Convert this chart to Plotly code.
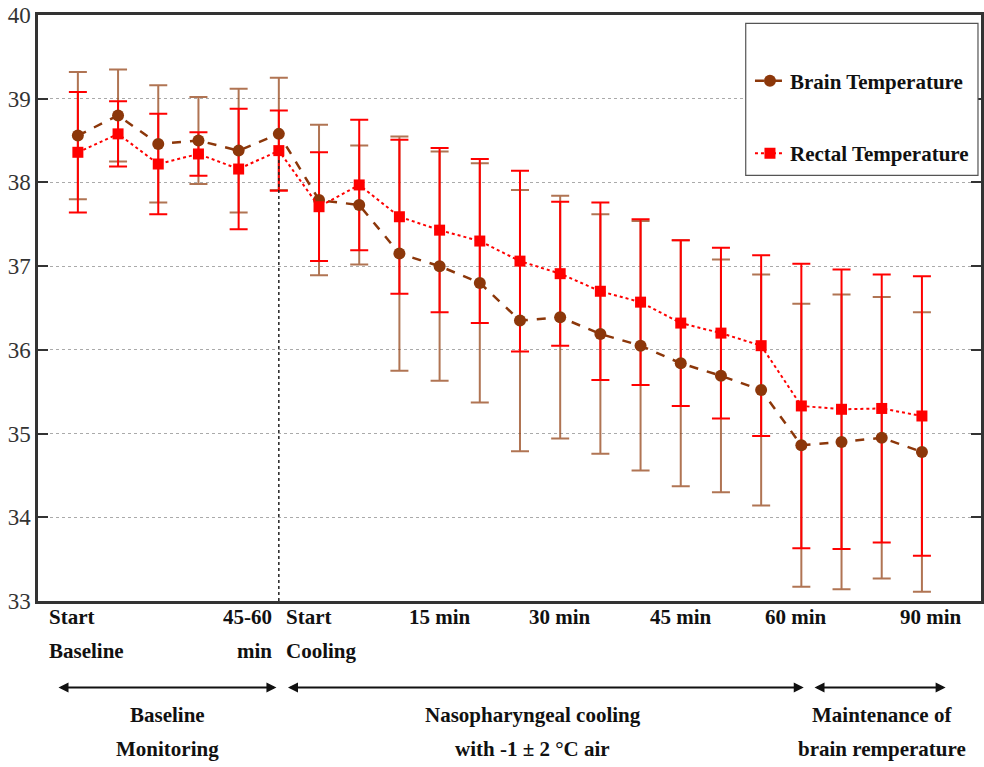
import plotly.graph_objects as go

# ---------------- data ----------------
x_index = list(range(22))

brain_mean = [38.56, 38.80, 38.46, 38.50, 38.38, 38.58, 37.79, 37.73, 37.15, 37.00, 36.80,
              36.35, 36.39, 36.19, 36.05, 35.84, 35.69, 35.52, 34.86, 34.90, 34.95, 34.78]
brain_sd = [0.76, 0.55, 0.70, 0.52, 0.74, 0.67, 0.90, 0.71, 1.40, 1.37, 1.43,
            1.56, 1.45, 1.43, 1.49, 1.47, 1.39, 1.38, 1.69, 1.76, 1.68, 1.67]

rectal_mean = [38.36, 38.58, 38.22, 38.34, 38.16, 38.38, 37.71, 37.97, 37.59, 37.43, 37.30,
               37.06, 36.91, 36.70, 36.57, 36.32, 36.20, 36.05, 35.33, 35.29, 35.30, 35.21]
rectal_sd = [0.72, 0.39, 0.60, 0.26, 0.72, 0.48, 0.65, 0.78, 0.92, 0.98, 0.98,
             1.08, 0.86, 1.06, 0.99, 0.99, 1.02, 1.08, 1.70, 1.67, 1.60, 1.67]

y_ticks = [33, 34, 35, 36, 37, 38, 39, 40]

tick_positions = [-0.77, 4.89, 5.14, 9.0, 12.0, 15.0, 17.87, 21.22]
tick_anchors = ["left", "right", "left", "center", "center", "center", "center", "center"]
tick_labels = [["Start", "Baseline"], ["45-60", "min"], ["Start", "Cooling"],
               ["15 min"], ["30 min"], ["45 min"], ["60 min"], ["90 min"]]

phase_starts = [-0.52, 5.19, 18.29]
phase_ends = [4.94, 18.06, 21.59]
phase_centers = [2.22, 11.32, 20.0]
phase_labels = [["Baseline", "Monitoring"],
                ["Nasopharyngeal cooling", "with -1 ± 2 °C air"],
                ["Maintenance of", "brain remperature"]]

cooling_start = 5
cooling_line_top = 38.3

# ---------------- style ----------------
BROWN = "rgb(140,55,10)"
BROWN_ERR = "rgba(150,70,25,0.75)"
RED = "rgb(255,0,0)"
SERIF = "Liberation Serif"

fig = go.Figure()

# error bars first (beneath lines / markers)
fig.add_trace(go.Scatter(
    x=x_index, y=brain_mean, mode="markers",
    marker=dict(size=1, color="rgba(0,0,0,0)"),
    error_y=dict(type="data", array=brain_sd, visible=True, color=BROWN_ERR,
                 thickness=2, width=9),
    showlegend=False, hoverinfo="skip"))
fig.add_trace(go.Scatter(
    x=x_index, y=rectal_mean, mode="markers",
    marker=dict(size=1, color="rgba(0,0,0,0)"),
    error_y=dict(type="data", array=rectal_sd, visible=True, color=RED,
                 thickness=2, width=9),
    showlegend=False, hoverinfo="skip"))

fig.add_trace(go.Scatter(
    x=x_index, y=brain_mean, mode="lines+markers", name="Brain Temperature",
    line=dict(color=BROWN, dash="dash", width=2.5),
    marker=dict(symbol="circle", size=12, color=BROWN),
    legendgroup="a"))
fig.add_trace(go.Scatter(
    x=x_index, y=rectal_mean, mode="lines+markers", name="Rectal Temperature",
    line=dict(color=RED, dash="dot", width=2),
    marker=dict(symbol="square", size=11, color=RED),
    legendgroup="b"))

# vertical dotted line at start of cooling
fig.add_shape(type="line", xref="x", yref="y", x0=cooling_start, x1=cooling_start,
              y0=y_ticks[0], y1=cooling_line_top,
              line=dict(color="#222", dash="dot", width=1.5), layer="above")

# legend box
fig.add_shape(type="rect", xref="paper", yref="paper", x0=0.7505, x1=0.9968,
              y0=0.7264, y1=0.9858, fillcolor="white",
              line=dict(color="#555", width=1.2), layer="above")

annotations = []
# x tick labels
line_y = [-0.028, -0.086]
for pos, anc, lines in zip(tick_positions, tick_anchors, tick_labels):
    for k, txt in enumerate(lines):
        annotations.append(dict(
            x=pos, y=line_y[k], xref="x", yref="paper", text=txt, showarrow=False,
            xanchor=anc, yanchor="middle",
            font=dict(family=SERIF, size=21, color="#111", weight="bold")))

# phase arrows
arrow_y = -0.1475
for s, e in zip(phase_starts, phase_ends):
    annotations.append(dict(
        x=e, y=arrow_y, xref="x", yref="paper", ax=s, ay=0, axref="x", ayref="pixel",
        showarrow=True, arrowside="end+start", arrowhead=2, arrowsize=1,
        arrowwidth=2, arrowcolor="#111", text=""))

# phase labels
phase_y = [-0.195, -0.253]
for c, lines in zip(phase_centers, phase_labels):
    for k, txt in enumerate(lines):
        annotations.append(dict(
            x=c, y=phase_y[k], xref="x", yref="paper", text=txt, showarrow=False,
            xanchor="center", yanchor="middle",
            font=dict(family=SERIF, size=21, color="#111", weight="bold")))

fig.update_layout(
    width=984, height=767,
    margin=dict(l=38, r=0, t=15, b=166),
    paper_bgcolor="white", plot_bgcolor="white",
    annotations=annotations,
    showlegend=True,
    legend=dict(x=0.755, y=0.922, xanchor="left", yanchor="top",
                bgcolor="rgba(0,0,0,0)", borderwidth=0,
                font=dict(family=SERIF, size=21, color="#111", weight="bold"),
                tracegroupgap=42, traceorder="grouped", itemwidth=30),
    xaxis=dict(range=[-0.992, 22.47], showgrid=False, zeroline=False,
               showticklabels=False, ticks="", showline=True, mirror=True,
               linecolor="#333", linewidth=2.5),
    yaxis=dict(range=[33, 40], tickvals=y_ticks, ticktext=[str(v) for v in y_ticks],
               showgrid=True, gridcolor="#aaa", griddash="dot", gridwidth=1,
               zeroline=False, showline=True, mirror="ticks", linecolor="#333",
               linewidth=2.5, ticks="inside", ticklen=10, tickwidth=2, tickcolor="#333",
               tickfont=dict(family=SERIF, size=23, color="#333")),
)

fig.write_html("out.html")
